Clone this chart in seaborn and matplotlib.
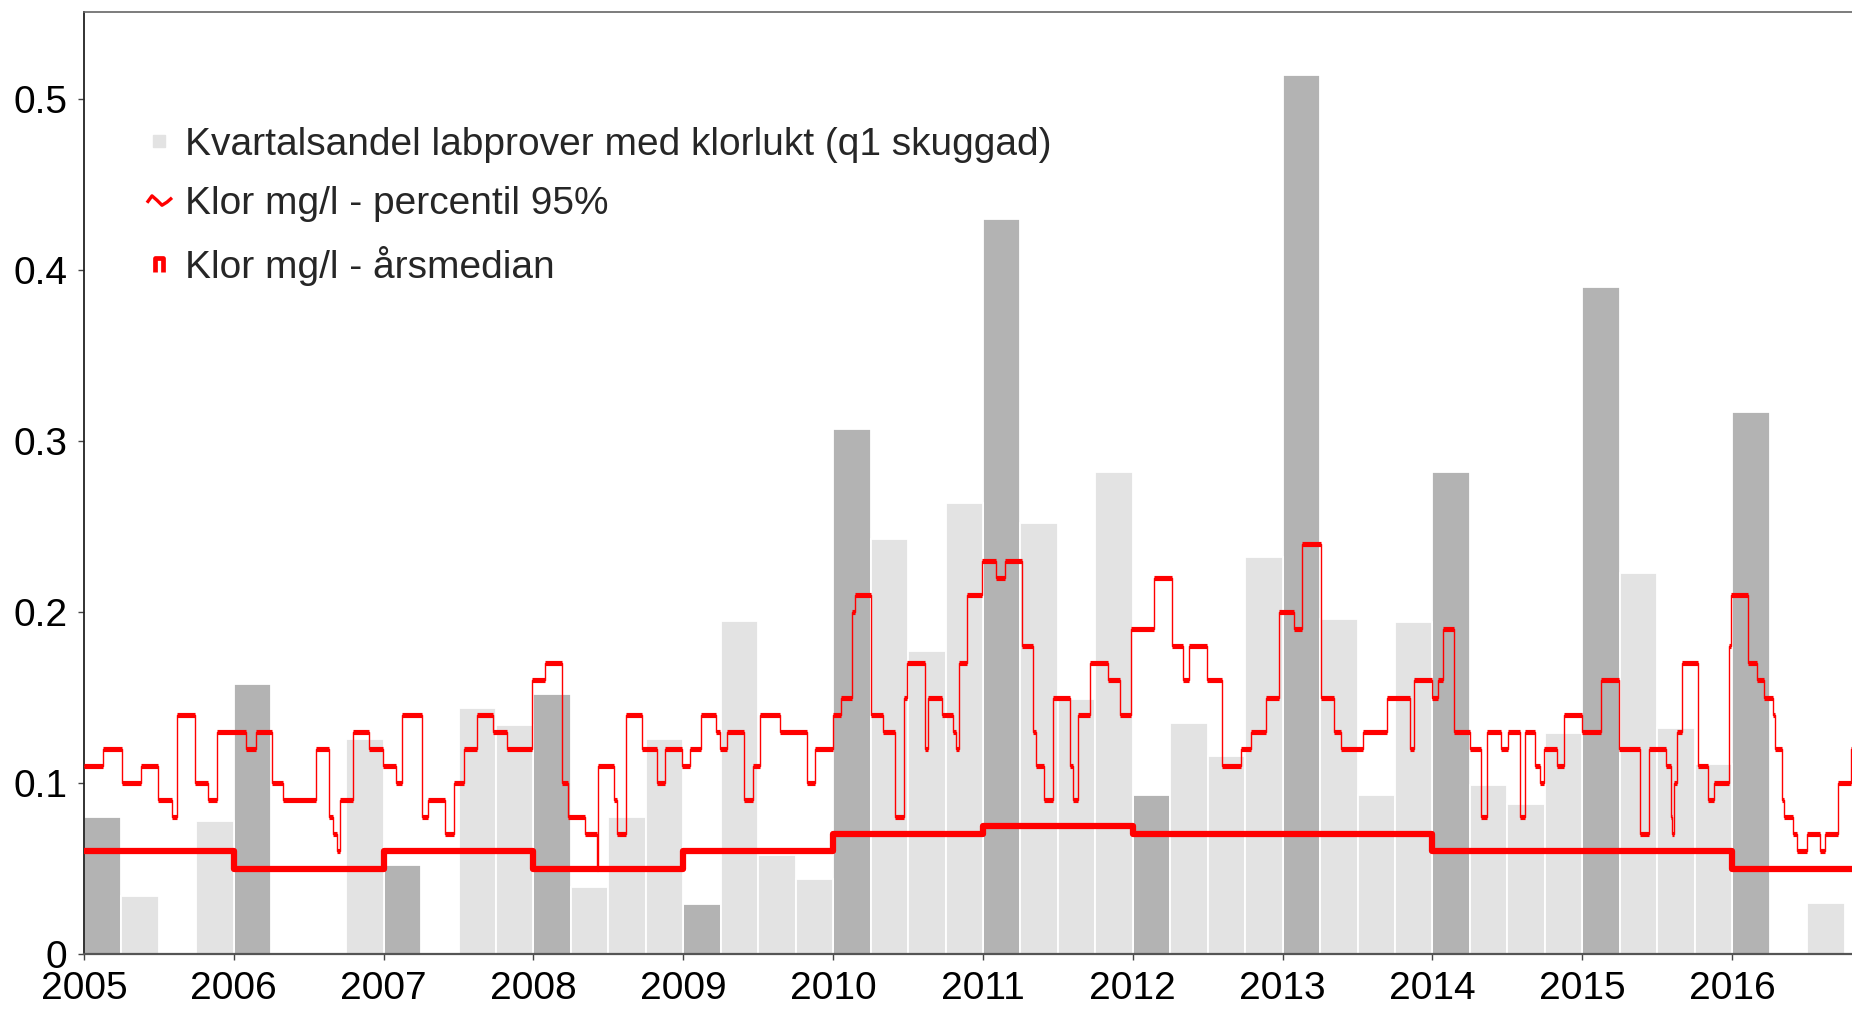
import numpy as np
import pandas as pd
import matplotlib
matplotlib.use("Agg")
import matplotlib.pyplot as plt
from matplotlib.lines import Line2D
from matplotlib.path import Path
import seaborn as sns

# ---------------- data ----------------
bar_year = [y for y in range(2005, 2017) for _ in range(4)]
bar_quarter = [1, 2, 3, 4] * 12
bar_share = [
    0.080, 0.034, 0.000, 0.078,   # 2005
    0.158, 0.000, 0.000, 0.126,   # 2006
    0.052, 0.000, 0.144, 0.134,   # 2007
    0.152, 0.039, 0.080, 0.126,   # 2008
    0.029, 0.195, 0.058, 0.044,   # 2009
    0.307, 0.243, 0.177, 0.264,   # 2010
    0.430, 0.252, 0.149, 0.282,   # 2011
    0.093, 0.135, 0.116, 0.232,   # 2012
    0.514, 0.196, 0.093, 0.194,   # 2013
    0.282, 0.099, 0.088, 0.129,   # 2014
    0.390, 0.223, 0.132, 0.111,   # 2015
    0.317, 0.000, 0.030, 0.000,   # 2016
]

p95_x = [
    2005.000, 2005.129, 2005.251, 2005.378, 2005.496, 2005.590, 2005.623, 2005.741,
    2005.830, 2005.886, 2006.079, 2006.146, 2006.257, 2006.331, 2006.547, 2006.638,
    2006.664, 2006.687, 2006.709, 2006.794, 2006.905, 2006.998, 2007.083, 2007.123,
    2007.254, 2007.294, 2007.410, 2007.470, 2007.537, 2007.621, 2007.728, 2007.826,
    2007.988, 2008.077, 2008.189, 2008.233, 2008.345, 2008.425, 2008.430, 2008.535,
    2008.556, 2008.618, 2008.727, 2008.823, 2008.878, 2008.990, 2009.046, 2009.117,
    2009.219, 2009.242, 2009.291, 2009.402, 2009.464, 2009.513, 2009.642, 2009.825,
    2009.880, 2009.998, 2010.052, 2010.125, 2010.147, 2010.254, 2010.336, 2010.414,
    2010.470, 2010.492, 2010.610, 2010.630, 2010.726, 2010.799, 2010.820, 2010.837,
    2010.893, 2010.993, 2011.088, 2011.148, 2011.259, 2011.337, 2011.355, 2011.408,
    2011.470, 2011.582, 2011.600, 2011.631, 2011.715, 2011.833, 2011.916, 2011.987,
    2012.143, 2012.260, 2012.332, 2012.378, 2012.494, 2012.594, 2012.721, 2012.788,
    2012.888, 2012.979, 2013.078, 2013.129, 2013.256, 2013.345, 2013.389, 2013.536,
    2013.696, 2013.847, 2013.874, 2013.997, 2014.040, 2014.070, 2014.146, 2014.248,
    2014.326, 2014.364, 2014.457, 2014.502, 2014.586, 2014.620, 2014.686, 2014.715,
    2014.742, 2014.831, 2014.875, 2014.998, 2015.125, 2015.243, 2015.383, 2015.448,
    2015.559, 2015.590, 2015.600, 2015.614, 2015.632, 2015.665, 2015.770, 2015.837,
    2015.877, 2015.982, 2015.993, 2016.106, 2016.166, 2016.210, 2016.270, 2016.289,
    2016.330, 2016.344, 2016.407, 2016.435, 2016.500, 2016.585, 2016.620, 2016.705,
    2016.794, 2016.800,
]
p95_y = [
    0.11, 0.12, 0.10, 0.11, 0.09, 0.08, 0.14, 0.10,
    0.09, 0.13, 0.12, 0.13, 0.10, 0.09, 0.12, 0.08,
    0.07, 0.06, 0.09, 0.13, 0.12, 0.11, 0.10, 0.14,
    0.08, 0.09, 0.07, 0.10, 0.12, 0.14, 0.13, 0.12,
    0.16, 0.17, 0.10, 0.08, 0.07, 0.05, 0.11, 0.09,
    0.07, 0.14, 0.12, 0.10, 0.12, 0.11, 0.12, 0.14,
    0.13, 0.12, 0.13, 0.09, 0.11, 0.14, 0.13, 0.10,
    0.12, 0.14, 0.15, 0.20, 0.21, 0.14, 0.13, 0.08,
    0.15, 0.17, 0.12, 0.15, 0.14, 0.13, 0.12, 0.17,
    0.21, 0.23, 0.22, 0.23, 0.18, 0.13, 0.11, 0.09,
    0.15, 0.11, 0.09, 0.14, 0.17, 0.16, 0.14, 0.19,
    0.22, 0.18, 0.16, 0.18, 0.16, 0.11, 0.12, 0.13,
    0.15, 0.20, 0.19, 0.24, 0.15, 0.13, 0.12, 0.13,
    0.15, 0.12, 0.16, 0.15, 0.16, 0.19, 0.13, 0.12,
    0.08, 0.13, 0.12, 0.13, 0.08, 0.13, 0.11, 0.10,
    0.12, 0.11, 0.14, 0.13, 0.16, 0.12, 0.07, 0.12,
    0.11, 0.08, 0.07, 0.10, 0.13, 0.17, 0.11, 0.09,
    0.10, 0.18, 0.21, 0.17, 0.16, 0.15, 0.14, 0.12,
    0.09, 0.08, 0.07, 0.06, 0.07, 0.06, 0.07, 0.10,
    0.12, 0.12,
]

median_year = list(range(2005, 2017))
median_val = [0.06, 0.05, 0.06, 0.05, 0.06, 0.07, 0.075, 0.07, 0.07, 0.06, 0.06, 0.05]

x_ticks = list(range(2005, 2017))
y_ticks = [0, 0.1, 0.2, 0.3, 0.4, 0.5]
y_tick_labels = ["0", "0.1", "0.2", "0.3", "0.4", "0.5"]

legend_labels = [
    "Kvartalsandel labprover med klorlukt (q1 skuggad)",
    "Klor mg/l - percentil 95%",
    "Klor mg/l - årsmedian",
]

# ---------------- style ----------------
sns.set_theme(style="white")
plt.rcParams["font.family"] = ["Liberation Sans", "DejaVu Sans"]

DARK = "#b3b3b3"
LIGHT = "#e3e3e3"
RED = "#ff0000"
FS = 28

fig = plt.figure(figsize=(18.52, 10.09), dpi=100)
ax = fig.add_axes([84 / 1852, 1 - 954 / 1009, 1 - 84 / 1852, (954 - 12) / 1009])

bars = pd.DataFrame({
    "x": [y + (q - 1) * 0.25 + 0.125 for y, q in zip(bar_year, bar_quarter)],
    "share": bar_share,
    "kind": ["q1" if q == 1 else "other" for q in bar_quarter],
})
sns.barplot(data=bars, x="x", y="share", hue="kind", native_scale=True, dodge=False,
            palette={"q1": DARK, "other": LIGHT}, width=1.0, errorbar=None,
            edgecolor="white", linewidth=1.3, saturation=1, legend=False, ax=ax)

# annual median (thick step line)
med = pd.DataFrame({"x": median_year + [median_year[-1] + 1],
                    "y": median_val + [median_val[-1]]})
sns.lineplot(data=med, x="x", y="y", drawstyle="steps-post", color=RED,
             linewidth=4.5, estimator=None, ax=ax, zorder=3)

# 95-percentile: thin step line + thick horizontal segments
p95 = pd.DataFrame({"x": p95_x, "y": p95_y})
sns.lineplot(data=p95, x="x", y="y", drawstyle="steps-post", color=RED,
             linewidth=1.0, estimator=None, ax=ax, zorder=4)
ax.hlines(p95["y"].values[:-1], p95["x"].values[:-1], p95["x"].values[1:],
          colors=RED, linewidth=3.7, zorder=4)

# ---------------- axes ----------------
ax.set_xlim(2005, 2016.80)
ax.set_ylim(0, 0.551)
ax.set_xticks(x_ticks)
ax.set_xticklabels([str(t) for t in x_ticks], fontsize=FS)
ax.set_yticks(y_ticks)
ax.set_yticklabels(y_tick_labels, fontsize=FS)
ax.set_xlabel("")
ax.set_ylabel("")
ax.tick_params(axis="x", direction="out", length=4, width=1, color="#444444", pad=8,
               labelcolor="black", bottom=True)
ax.tick_params(axis="y", direction="out", length=4, width=1, color="#444444", pad=8,
               labelcolor="black", left=True)
for side, col, lw in [("left", "#222222", 1.3), ("bottom", "#555555", 1.6),
                      ("top", "#666666", 1.2)]:
    ax.spines[side].set_visible(True)
    ax.spines[side].set_color(col)
    ax.spines[side].set_linewidth(lw)
ax.spines["right"].set_visible(False)

# ---------------- legend ----------------
wave = Path([(-1.0, -0.1), (-0.6, 0.45), (-0.2, 0.1), (0.2, -0.3), (0.6, -0.05), (1.0, 0.3)])
pi = Path([(-0.55, -1.0), (-0.55, 0.8), (0.55, 0.8), (0.55, -1.0)])
handles = [
    Line2D([], [], ls="", marker="s", markersize=8, markerfacecolor=LIGHT, markeredgecolor=LIGHT),
    Line2D([], [], ls="", marker=wave, markersize=18, markerfacecolor="none",
           markeredgecolor=RED, markeredgewidth=2.4),
    Line2D([], [], ls="", marker=pi, markersize=11, markerfacecolor="none",
           markeredgecolor=RED, markeredgewidth=3.4),
]
ax.legend(handles, legend_labels, loc="upper left", bbox_to_anchor=(0.0357, 0.878),
          frameon=False, fontsize=FS, handlelength=0.6, handletextpad=0.37,
          labelspacing=0.6, borderaxespad=0, borderpad=0)

fig.savefig("out.png", dpi=100)
